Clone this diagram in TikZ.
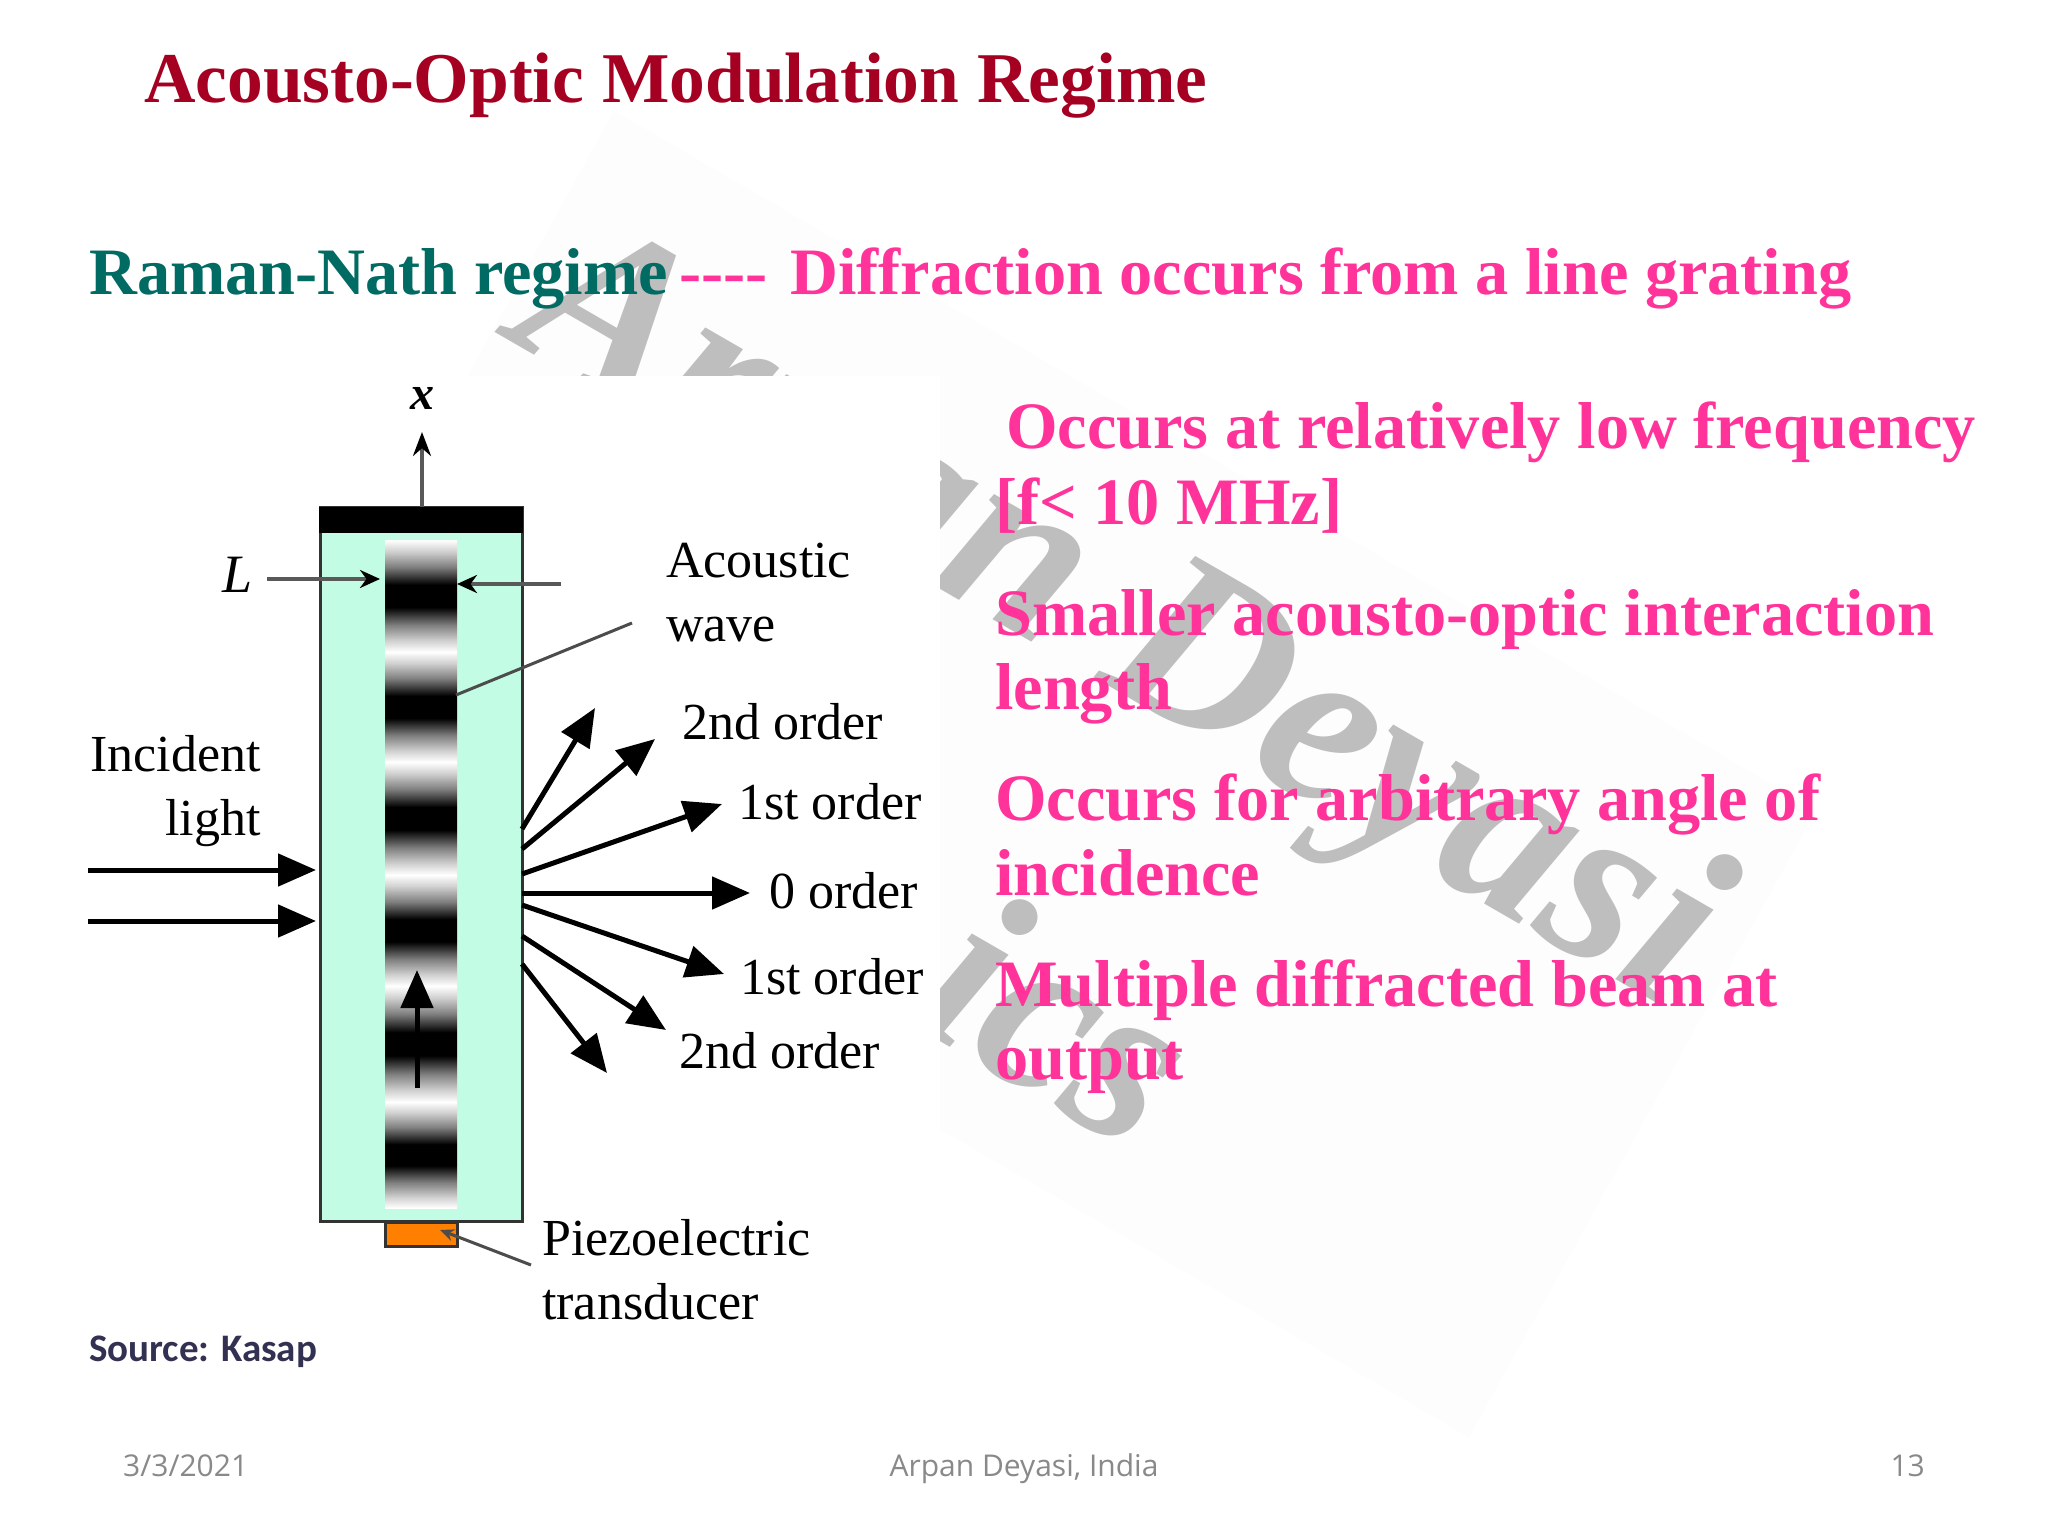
\documentclass[tikz,border=0pt]{standalone}
\usepackage{fontspec}
\setmainfont{Liberation Serif}
\newfontfamily\sourcefont{Carlito}
\newfontfamily\footfont{Open Sans}
\usetikzlibrary{arrows.meta}
\definecolor{titlered}{HTML}{A50021}
\definecolor{regimegreen}{HTML}{006B63}
\definecolor{textpink}{HTML}{FF3399}
\definecolor{sourcenavy}{HTML}{333152}
\definecolor{footgrey}{HTML}{898989}
\definecolor{cellgreen}{HTML}{C2FCE4}
\definecolor{padorange}{HTML}{FF8000}
\definecolor{markgrey}{HTML}{BEBEBE}
\definecolor{paleback}{HTML}{FEFDFE}
\pgfdeclareverticalshading{bandshade}{100bp}{color(0bp)=(white); color(25bp)=(white); color(30bp)=(white!82!black); color(37bp)=(gray); color(45bp)=(black); color(55bp)=(black); color(63bp)=(gray); color(70bp)=(white!82!black); color(75bp)=(white); color(100bp)=(white)}
\tikzset{
    slidetitle/.style={anchor=base west,inner sep=0pt,text=titlered,font=\bfseries\fontsize{71.4}{71.4}\selectfont},
    bodyline/.style={anchor=base west,inner sep=0pt,text=textpink,font=\bfseries\fontsize{66.3}{66.3}\selectfont},
    figlabel/.style={anchor=west,inner sep=0pt,text height=34pt,text depth=0pt,font=\fontsize{52}{52}\selectfont},
    footnote/.style={inner sep=0pt,text=footgrey,font=\footfont\fontsize{30}{30}\selectfont},
    watermark/.style={rotate=-30,anchor=base west,inner sep=0pt,text=markgrey,font=\bfseries\itshape\fontsize{238}{238}\selectfont},
    beam/.style={line width=5pt,-{Triangle[length=38pt,width=32pt]}},
    pointer/.style={line width=3pt,black!70},
    gauge/.style={line width=3.5pt,black!65,-{Stealth[length=20pt,width=18pt,black]}}
}
\begin{document}
\begin{tikzpicture}[x=1pt,y=-1pt]
    \useasboundingbox (0,0) rectangle (2048,1536);
    \fill[white] (0,0) rectangle (2048,1536);
    \fill[paleback] (614,111) -- (1816,810) -- (1469,1437) -- (268,738) -- cycle;
    \node[watermark] (markname) at (505,338) {Arpan Deyasi};
    \node[watermark] (markfield) at (905,1021) {ics};
    \fill[white] (88,376) rectangle (940,1335);

    \node[slidetitle] (title) at (144,103) {Acousto-Optic Modulation Regime};
    \node[bodyline,text=regimegreen] (regime) at (89,294) {Raman-Nath regime};
    \node[bodyline] (dashes) at (679,294) {-{}-{}-{}-};
    \node[bodyline] (grating) at (790,294) {Diffraction occurs from a line grating};
    \node[bodyline] (lineA) at (1006,448) {Occurs at relatively low frequency};
    \node[bodyline] (lineB) at (995,524) {[f< 10 MHz]};
    \node[bodyline] (lineC) at (995,635) {Smaller acousto-optic interaction};
    \node[bodyline] (lineD) at (995,709) {length};
    \node[bodyline] (lineE) at (995,820) {Occurs for arbitrary angle of};
    \node[bodyline] (lineF) at (995,895) {incidence};
    \node[bodyline] (lineG) at (995,1006) {Multiple diffracted beam at};
    \node[bodyline] (lineH) at (995,1079) {output};

    \draw[line width=3pt,black!80,fill=cellgreen] (320,507) rectangle (522,1221);
    \fill[black] (319,507) rectangle (523,533);
    \foreach \ytop/\ybot in {540/652,652/762,762/875,875/986,986/1102,1102/1208}
        \shade[shading=bandshade] (385,\ytop) rectangle (457,\ybot);
    \draw[line width=3pt,black!80,fill=padorange] (385,1222) rectangle (457,1246);

    \coordinate (xfoot) at (422,507);
    \coordinate (xtip) at (422,432);
    \draw[line width=3.5pt,black!65,-{Stealth[length=24pt,width=18pt,black]}] (xfoot) -- (xtip);
    \node[font=\itshape\bfseries\fontsize{48}{48}\selectfont,inner sep=0pt] (xlabel) at (422,398) {x};

    \node[font=\itshape\fontsize{54}{54}\selectfont,inner sep=0pt] (llabel) at (238,575) {L};
    \coordinate (lstart) at (267,579);
    \coordinate (lend) at (380,579);
    \coordinate (rstart) at (561,584);
    \coordinate (rend) at (457,584);
    \draw[gauge] (lstart) -- (lend);
    \draw[gauge] (rstart) -- (rend);

    \node[figlabel] (acoustic) at (666,560) {Acoustic};
    \node[figlabel] (wave) at (666,624) {wave};
    \coordinate (wavefoot) at (632,623);
    \coordinate (wavetip) at (456,695);
    \draw[pointer] (wavefoot) -- (wavetip);

    \node[figlabel,anchor=east] (incident) at (261,754) {Incident};
    \node[figlabel,anchor=east] (light) at (261,818) {light};
    \coordinate (inA) at (88,870);
    \coordinate (inAtip) at (316,870);
    \coordinate (inB) at (88,921);
    \coordinate (inBtip) at (316,921);
    \draw[beam] (inA) -- (inAtip);
    \draw[beam] (inB) -- (inBtip);

    \foreach \idx/\sy/\tx/\ty in {1/829/595/708,2/849/655/739,3/874/722/804,4/893/750/893,5/905/724/974,6/936/666/1030,7/964/607/1073}{
        \coordinate (fan\idx) at (522,\sy);
        \coordinate (fantip\idx) at (\tx,\ty);
        \draw[beam] (fan\idx) -- (fantip\idx);
    }
    \node[figlabel] (orderA) at (682,722) {2nd order};
    \node[figlabel] (orderB) at (738,802) {1st order};
    \node[figlabel] (orderC) at (769,891) {0 order};
    \node[figlabel] (orderD) at (740,977) {1st order};
    \node[figlabel] (orderE) at (679,1051) {2nd order};

    \coordinate (sound) at (417,1088);
    \coordinate (soundtip) at (417,970);
    \draw[beam] (sound) -- (soundtip);

    \node[figlabel] (piezo) at (542,1238) {Piezoelectric};
    \node[figlabel] (transducer) at (542,1302) {transducer};
    \coordinate (padfoot) at (531,1265);
    \coordinate (padtip) at (440,1230);
    \draw[pointer,-{Stealth[length=14pt,width=12pt]}] (padfoot) -- (padtip);

    \node[anchor=base west,inner sep=0pt,text=sourcenavy,font=\sourcefont\bfseries\fontsize{39}{39}\selectfont] (source) at (89,1361) {Source: Kasap};
    \node[footnote,anchor=base west] (date) at (123,1476) {3/3/2021};
    \node[footnote,anchor=base] (name) at (1024,1476) {Arpan Deyasi, India};
    \node[footnote,anchor=base east] (page) at (1925,1476) {13};
\end{tikzpicture}
\end{document}
